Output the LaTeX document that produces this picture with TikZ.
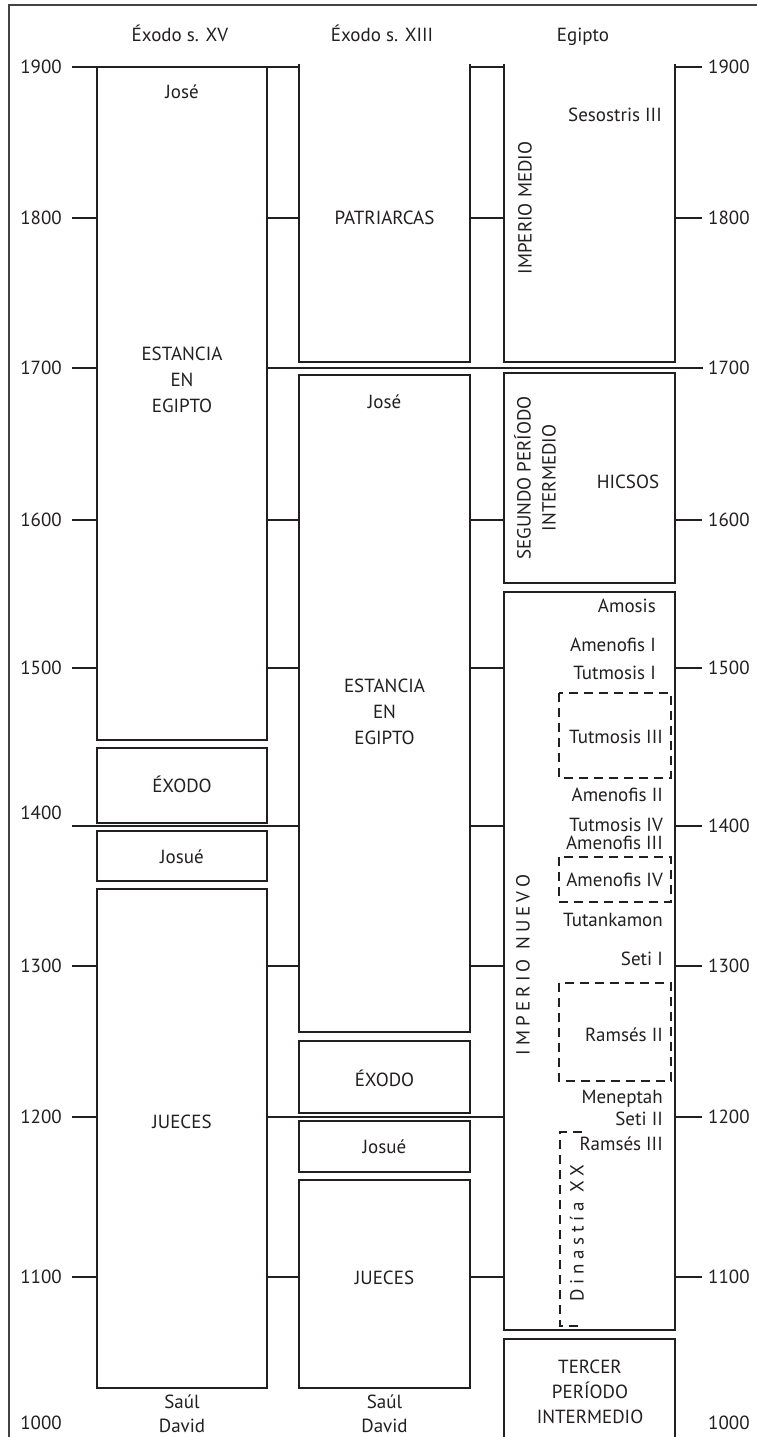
\documentclass[tikz,border=0pt]{standalone}
\usepackage{fontspec}
\setmainfont{PT Sans}
\definecolor{ink}{HTML}{231F20}
\begin{document}
\begin{tikzpicture}[x=1pt,y=-1pt,
  box/.style={line width=2.4pt, draw=ink},
  tk/.style={line width=1.8pt, draw=ink},
  dbox/.style={line width=2pt, draw=ink, dash pattern=on 9pt off 6pt},
  lbl/.style={inner sep=0pt, text=ink, font=\fontsize{19}{25}\selectfont, text height=13.3pt, text depth=0pt},
  ml/.style={inner sep=0pt, text=ink, align=center, font=\fontsize{19}{26}\selectfont},
]
\useasboundingbox (0,0) rectangle (756,1437);
\fill[white] (0,0) rectangle (756,1437);
% frame
\draw[line width=2pt, draw=ink!85] (9,1440) -- (9,5) -- (760,5);

% headers
\node[lbl] (h1) at (180,35) {Éxodo s. XV};
\node[lbl] (h2) at (382,35) {Éxodo s. XIII};
\node[lbl] (h3) at (583,35) {Egipto};

% left axis labels
\foreach \yr/\yy in {1900/67,1800/218,1700/368,1600/520,1500/668,1300/966,1200/1117,1100/1277}{
  \node[lbl, anchor=east] (L\yr) at (62,\yy) {\yr};
  \draw[tk] (72,\yy) -- (97,\yy);
}
\node[lbl, anchor=east] (L1400) at (62,813) {1400};
\node[lbl, anchor=east] (L1000) at (62,1423) {1000};
% right axis labels
\foreach \yr/\yy in {1900/67,1800/218,1700/368,1600/520,1500/668,1400/826,1300/966,1200/1117,1100/1277}{
  \node[lbl, anchor=west] (R\yr) at (708,\yy) {\yr};
  \draw[tk] (675,\yy) -- (702,\yy);
}
\node[lbl, anchor=west] (R1000) at (708,1423) {1000};

% middle ticks
\foreach \yy in {67,218,520,668,966,1277}{
  \draw[tk] (267,\yy) -- (299,\yy);
}
\foreach \yy in {67,218,520,668,826,966,1277}{
  \draw[tk] (470,\yy) -- (504,\yy);
}
% long lines
\draw[tk] (267,368) -- (703,368);
\draw[tk] (72,826) -- (299,826);
\draw[tk] (267,1117) -- (504,1117);

% column 1
\draw[box] (97,67) rectangle (267,740);
\draw[box] (97,748) rectangle (267,823);
\draw[box] (97,831) rectangle (267,881);
\draw[box] (97,889) rectangle (267,1388);
\node[lbl] (c1jose) at (182,92) {José};
\node[ml] (c1est) at (182,380) {ESTANCIA\\EN\\EGIPTO};
\node[lbl] (c1ex) at (182,786) {ÉXODO};
\node[lbl] (c1jos) at (182,857) {Josué};
\node[lbl] (c1jue) at (182,1122) {JUECES};
\node[ml, font=\fontsize{19}{24}\selectfont] (c1sd) at (182,1414) {Saúl\\David};

% column 2
\draw[box] (299,64) -- (299,362) -- (470,362) -- (470,64);
\draw[box] (299,375) rectangle (470,1032);
\draw[box] (299,1041) rectangle (470,1113);
\draw[box] (299,1121) rectangle (470,1172);
\draw[box] (299,1180) rectangle (470,1388);
\node[lbl] (c2pat) at (384.5,218) {PATRIARCAS};
\node[lbl] (c2jose) at (384.5,402) {José};
\node[ml] (c2est) at (384.5,712) {ESTANCIA\\EN\\EGIPTO};
\node[lbl] (c2ex) at (384.5,1080) {ÉXODO};
\node[lbl] (c2jos) at (384.5,1147) {Josué};
\node[lbl] (c2jue) at (384.5,1278) {JUECES};
\node[ml, font=\fontsize{19}{24}\selectfont] (c2sd) at (384.5,1414) {Saúl\\David};

% column 3
\draw[box] (504,64) -- (504,362) -- (675,362) -- (675,64);
\draw[box] (504,373) rectangle (675,583);
\draw[box] (504,592) rectangle (675,1330);
\draw[box] (504,1339) rectangle (675,1460);
\node[lbl, anchor=east] (ses) at (662,115) {Sesostris III};
\node[lbl, rotate=90] (imed) at (525,208) {IMPERIO MEDIO};
\node[ml, rotate=90, font=\fontsize{19}{25}\selectfont] (seg) at (535,478) {SEGUNDO PERÍODO\\INTERMEDIO};
\node[lbl] (hic) at (628,482) {HICSOS};
\node[lbl, rotate=90, font=\fontsize{19}{25}\selectfont\addfontfeature{LetterSpace=22}] (inue) at (523,965) {IMPERIO NUEVO};
\node[ml, font=\fontsize{19}{25}\selectfont] (terc) at (590,1392) {TERCER\\PERÍODO\\INTERMEDIO};

\foreach \nm/\xx/\yy/\tx in {amo/656/606/Amosis, am1/656/645/Amenofis I, tu1/656/673/Tutmosis I,
   tu3/663/737/Tutmosis III, am2/663/795/Amenofis II, tu4/663/825/Tutmosis IV, am3/663/843/Amenofis III,
   am4/663/880/Amenofis IV, tut/663/920/Tutankamon, se1/663/959/Seti I, ra2/663/1035/Ramsés II,
   men/663/1097/Meneptah, se2/663/1119/Seti II, ra3/663/1144/Ramsés III}{
  \node[lbl, anchor=east] (\nm) at (\xx,\yy) {\tx};
}
\draw[dbox] (559,693) rectangle (671,778);
\draw[dbox] (559,857) rectangle (671,902);
\draw[dbox] (559,983) rectangle (671,1081);
\draw[dbox] (582,1132) -- (560,1132) -- (560,1326) -- (582,1326);
\node[lbl, rotate=90, font=\fontsize{19}{25}\selectfont\addfontfeature{LetterSpace=25}] (din) at (577,1233) {Dinastía XX};
\end{tikzpicture}
\end{document}
